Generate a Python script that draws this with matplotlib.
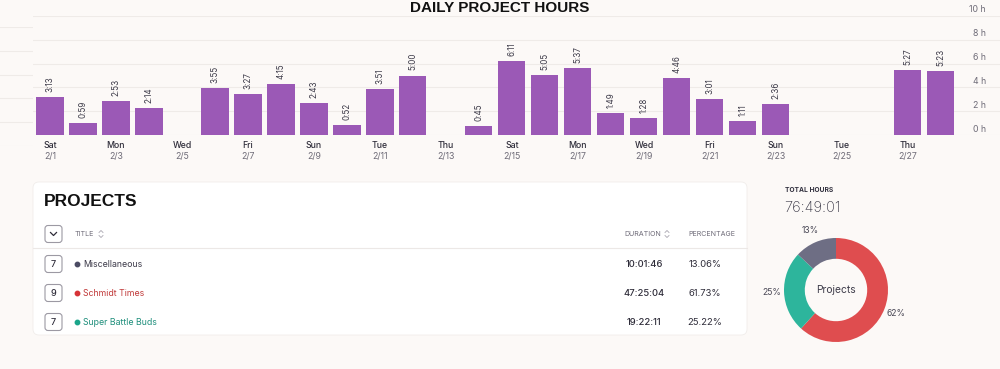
import numpy as np
import matplotlib.pyplot as plt
from matplotlib.patches import FancyBboxPatch
from matplotlib.lines import Line2D

plt.rcParams["font.family"] = ["Inter", "DejaVu Sans"]

# daily totals (h:mm), 2/1 .. 2/28, empty string = no hours logged
daily_durations = [
    "3:13", "0:59", "2:53", "2:14", "", "3:55", "3:27",
    "4:15", "2:43", "0:52", "3:51", "5:00", "", "0:45",
    "6:11", "5:05", "5:37", "1:49", "1:28", "4:46", "3:01",
    "1:11", "2:36", "", "", "", "5:27", "5:23",
]
tick_days = ["Sat", "Mon", "Wed", "Fri", "Sun", "Tue", "Thu",
             "Sat", "Mon", "Wed", "Fri", "Sun", "Tue", "Thu"]
tick_dates = ["2/1", "2/3", "2/5", "2/7", "2/9", "2/11", "2/13",
              "2/15", "2/17", "2/19", "2/21", "2/23", "2/25", "2/27"]
y_ticks = [0, 2, 4, 6, 8, 10]

project_names = ["Miscellaneous", "Schmidt Times", "Super Battle Buds"]
project_counts = ["7", "9", "7"]
project_durations = ["10:01:46", "47:25:04", "19:22:11"]
project_percents = [13.06, 61.73, 25.22]
project_dot_colors = ["#4b4b63", "#d63337", "#1aa58a"]
project_text_colors = ["#3d3b4a", "#c13a3a", "#1f8f7c"]
total_hours = "76:49:01"

# donut order: clockwise from top
donut_values = [61.73, 25.22, 13.06]
donut_colors = ["#df4d4f", "#2db59c", "#6e6e84"]

BG = "#fcf9f7"
BAR = "#9b59b6"
GRID = "#efebe8"
W, H = 1000, 369


def to_hours(s):
    if not s:
        return 0.0
    h, m = s.split(":")
    return int(h) + int(m) / 60


hours = np.array([to_hours(s) for s in daily_durations])
x = np.arange(len(hours))
px = 0.72  # points per pixel at dpi 100

fig = plt.figure(figsize=(W / 100, H / 100), dpi=100)
fig.patch.set_facecolor(BG)

# background layer in pixel coordinates (card, table decorations)
ax_bg = fig.add_axes([0, 0, 1, 1], zorder=0)
ax_bg.set_xlim(0, W)
ax_bg.set_ylim(H, 0)
ax_bg.axis("off")

# left stub gridlines (sticky axis layer, slightly offset)
ax_stub = fig.add_axes([0, 1 - 146 / H, 33 / W, 119 / H], zorder=1)
ax_stub.set_ylim(0, 10)
ax_stub.set_yticks(y_ticks)
ax_stub.yaxis.grid(True, color=GRID, lw=0.8)
ax_stub.tick_params(left=False, labelleft=False, bottom=False, labelbottom=False)
ax_stub.set_facecolor("none")
for s in ax_stub.spines.values():
    s.set_visible(False)

# bar chart
ax = fig.add_axes([33 / W, 1 - 135 / H, 967 / W, 119 / H], zorder=1)
ax.set_facecolor("none")
ax.set_xlim(-0.515, 28.79)
ax.set_ylim(0, 10)
ax.set_yticks(y_ticks)
ax.yaxis.grid(True, color=GRID, lw=0.8)
ax.set_axisbelow(True)
ax.tick_params(left=False, labelleft=False, bottom=False, labelbottom=False)
for s in ax.spines.values():
    s.set_visible(False)

ax.bar(x, hours, width=0.82, color=BAR, zorder=2)
for xi, h, lab in zip(x, hours, daily_durations):
    if lab:
        ax.annotate(lab, xy=(xi, h), xytext=(0, 5 * px), textcoords="offset points",
                    rotation=90, ha="center", va="bottom", fontsize=5.8,
                    color="#3c3a48", annotation_clip=False)

for i, (d, dt) in enumerate(zip(tick_days, tick_dates)):
    ax.annotate(d, xy=(2 * i, 0), xycoords=("data", "axes fraction"),
                xytext=(0, -10 * px), textcoords="offset points",
                ha="center", va="center", fontsize=6.3, color="#2f2d3a",
                fontweight="medium", annotation_clip=False)
    ax.annotate(dt, xy=(2 * i, 0), xycoords=("data", "axes fraction"),
                xytext=(0, -21 * px), textcoords="offset points",
                ha="center", va="center", fontsize=6.3, color="#6f6c78",
                annotation_clip=False)

for v in y_ticks:
    ax.annotate(f"{v} h", xy=(1, v), xycoords=("axes fraction", "data"),
                xytext=(-14 * px, 6 * px), textcoords="offset points",
                ha="right", va="center", fontsize=6.3, color="#6f6c78",
                annotation_clip=False)

fig.text(0.5, 1 - 8 / H, "DAILY PROJECT HOURS", ha="center", va="center",
         fontsize=11, fontweight="bold", family="Liberation Sans", color="#111111")

# projects card
ax_bg.add_patch(FancyBboxPatch((33, 182), 714, 153,
                               boxstyle="round,pad=0,rounding_size=6",
                               fc="white", ec="#f1edeb", lw=0.6))
ax_bg.text(44, 201, "PROJECTS", ha="left", va="center", fontsize=12.5,
           fontweight="bold", family="Liberation Sans", color="#111111")


def sort_icon(xc, yc):
    ax_bg.add_line(Line2D([xc - 2, xc, xc + 2], [yc - 1.5, yc - 3.5, yc - 1.5],
                          color="#a9a6b0", lw=0.6))
    ax_bg.add_line(Line2D([xc - 2, xc, xc + 2], [yc + 1.5, yc + 3.5, yc + 1.5],
                          color="#a9a6b0", lw=0.6))


def badge(xc, yc):
    ax_bg.add_patch(FancyBboxPatch((xc - 8.5, yc - 8.5), 17, 17,
                                   boxstyle="round,pad=0,rounding_size=3",
                                   fc="white", ec="#9c99a3", lw=0.8))


header_y = 234
badge(53.5, header_y)
ax_bg.add_line(Line2D([50.5, 53.5, 56.5], [232.5, 235.5, 232.5], color="#2f2d3a", lw=0.9))
ax_bg.text(75, header_y, "TITLE", ha="left", va="center", fontsize=5.1, color="#6e6b78")
sort_icon(101, header_y)
ax_bg.text(624, header_y, "DURATION", ha="left", va="center", fontsize=5.1, color="#6e6b78")
sort_icon(667, header_y)
ax_bg.text(688, header_y, "PERCENTAGE", ha="left", va="center", fontsize=5.1, color="#6e6b78")
ax_bg.add_line(Line2D([33, 747], [248, 248], color="#ece8e6", lw=0.8))

for i, name in enumerate(project_names):
    ry = 264 + 29 * i
    badge(53.5, ry)
    ax_bg.text(53.5, ry + 0.5, project_counts[i], ha="center", va="center",
               fontsize=6.5, fontweight="medium", color="#2f2d3a")
    ax_bg.plot(76.5, ry, "o", ms=3.2, color=project_dot_colors[i])
    ax_bg.text(83, ry + 0.5, name, ha="left", va="center", fontsize=6.3,
               color=project_text_colors[i])
    ax_bg.text(644, ry + 0.5, project_durations[i], ha="center", va="center",
               fontsize=6.8, fontweight="medium", color="#2f2d3a")
    ax_bg.text(705, ry + 0.5, f"{project_percents[i]:.2f}%", ha="center", va="center",
               fontsize=6.8, color="#2f2d3a")

# total hours + donut
fig.text(785 / W, 1 - 190 / H, "TOTAL HOURS", ha="left", va="center",
         fontsize=4.8, fontweight="bold", color="#333240")
fig.text(784 / W, 1 - 208 / H, total_hours, ha="left", va="center",
         fontsize=10.5, fontweight="light", color="#3c3a48")

ax_pie = fig.add_axes([(836 - 78) / W, 1 - (290 + 78) / H, 156 / W, 156 / H], zorder=1)
ax_pie.set_facecolor("none")
wedges, texts = ax_pie.pie(
    donut_values, colors=donut_colors, startangle=90, counterclock=False,
    radius=1, wedgeprops=dict(width=0.4, edgecolor="none"),
    labels=[f"{round(v)}%" for v in donut_values], labeldistance=1.24,
    textprops=dict(fontsize=6.2, color="#4a4856"),
)
for t in texts:
    t.set_ha("center")
ax_pie.text(0, 0, "Projects", ha="center", va="center", fontsize=7.4, color="#3c3a48")
ax_pie.set_xlim(-1.5, 1.5)
ax_pie.set_ylim(-1.5, 1.5)
ax_pie.set_aspect("equal")
ax_pie.axis("off")

fig.savefig("out.png", dpi=100, facecolor=BG)
